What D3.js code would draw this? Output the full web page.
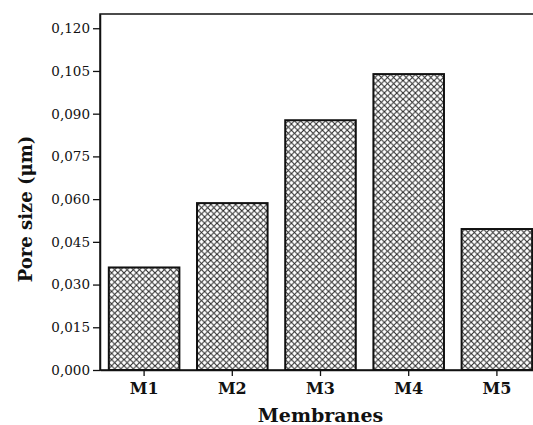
<!DOCTYPE html>
<html lang="en">
<head>
<meta charset="utf-8">
<title>Pore size</title>
<script src="https://cdn.jsdelivr.net/npm/d3@7"></script>
<style>
  body { margin: 0; background: #fff; }
  text { font-family: "DejaVu Serif", serif; fill: #111; }
</style>
</head>
<body>
<div id="chart"></div>
<script>
const membranes = ["M1", "M2", "M3", "M4", "M5"];
const poreSize = [0.036, 0.0586, 0.0877, 0.1039, 0.0495];
const yTicks = [0, 0.015, 0.030, 0.045, 0.060, 0.075, 0.090, 0.105, 0.120];

const width = 533, height = 425;
const plotLeft = 100, plotRight = 541, plotTop = 14, plotBottom = 370;

const svg = d3.select("#chart").append("svg")
  .attr("width", width).attr("height", height)
  .style("display", "block");

// crosshatch fill
const hs = 6.2;
const pat = svg.append("defs").append("pattern")
  .attr("id", "hatch").attr("patternUnits", "userSpaceOnUse")
  .attr("width", hs).attr("height", hs);
pat.append("rect").attr("width", hs).attr("height", hs).attr("fill", "#fff");
pat.append("path")
  .attr("d", `M0,0 L${hs},${hs} M-1,${hs - 1} L1,${hs + 1} M${hs - 1},-1 L${hs + 1},1`)
  .attr("stroke", "#2a2a2a").attr("stroke-width", 1.05);
pat.append("path")
  .attr("d", `M0,${hs} L${hs},0 M-1,1 L1,-1 M${hs - 1},${hs + 1} L${hs + 1},${hs - 1}`)
  .attr("stroke", "#2a2a2a").attr("stroke-width", 1.05);

const x = d3.scaleBand().domain(membranes).range([plotLeft, plotRight])
  .paddingInner(0.2).paddingOuter(0.1);
const y = d3.scaleLinear().domain([0, 0.125]).range([plotBottom, plotTop]);

// frame (left and top visible)
svg.append("rect").attr("x", plotLeft).attr("y", plotTop)
  .attr("width", plotRight - plotLeft).attr("height", plotBottom - plotTop)
  .attr("fill", "none").attr("stroke", "#111").attr("stroke-width", 1.5);

svg.selectAll(".bar").data(membranes).enter().append("rect")
  .attr("class", "bar")
  .attr("x", d => x(d))
  .attr("y", (d, i) => y(poreSize[i]))
  .attr("width", x.bandwidth())
  .attr("height", (d, i) => plotBottom - y(poreSize[i]))
  .attr("fill", "url(#hatch)")
  .attr("stroke", "#111").attr("stroke-width", 2);

const fmt = d => d3.format(".3f")(d).replace(".", ",");

const yAxis = svg.append("g").attr("transform", `translate(${plotLeft},0)`)
  .call(d3.axisLeft(y).tickValues(yTicks).tickFormat(fmt)
    .tickSize(7).tickSizeOuter(0).tickPadding(3));
yAxis.selectAll("text").style("font-size", "13.5px").style("font-family", "DejaVu Serif");

const xAxis = svg.append("g").attr("transform", `translate(0,${plotBottom})`)
  .call(d3.axisBottom(x).tickSize(6).tickSizeOuter(0).tickPadding(7));
xAxis.selectAll("text").style("font-size", "16px").style("font-weight", "bold")
  .style("font-family", "DejaVu Serif");

svg.selectAll(".domain").attr("stroke", "#111").attr("stroke-width", 1.5);
svg.selectAll(".tick line").attr("stroke", "#111").attr("stroke-width", 1.3);

svg.append("text").attr("x", (plotLeft + plotRight) / 2).attr("y", 422)
  .attr("text-anchor", "middle").style("font-size", "19px").style("font-weight", "bold")
  .text("Membranes");

svg.append("text").attr("transform", "translate(32,209) rotate(-90)")
  .attr("text-anchor", "middle").style("font-size", "18px").style("font-weight", "bold")
  .text("Pore size (μm)");
</script>
</body>
</html>
